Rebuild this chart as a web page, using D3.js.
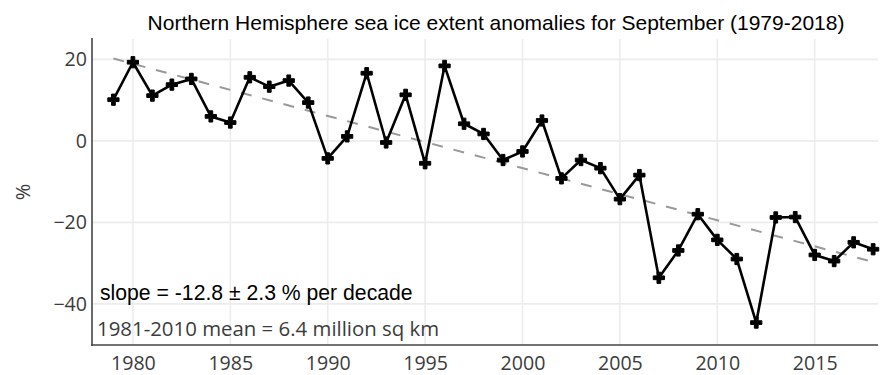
<!DOCTYPE html>
<html>
<head>
<meta charset="utf-8">
<script src="https://cdn.jsdelivr.net/npm/d3@7"></script>
<style>
  body { margin: 0; background: #fff; }
  svg { display: block; }
</style>
</head>
<body>
<svg id="chart" width="883" height="375"></svg>
<script>
// September sea ice extent anomalies (% relative to 1981-2010 mean)
const years = d3.range(1979, 2019);
const anomalies = [
  10.1, 19.3, 11.1, 13.8, 15.2, 6.0, 4.5, 15.6, 13.3, 14.8,
  9.4, -4.3, 1.1, 16.6, -0.4, 11.3, -5.5, 18.4, 4.2, 1.7,
  -4.7, -2.6, 5.0, -9.2, -4.7, -6.7, -14.3, -8.4, -33.6, -26.9,
  -18.0, -24.3, -29.0, -44.6, -18.8, -18.7, -28.0, -29.5, -24.9, -26.6
];
// Linear trend: value at 1979 and slope (% per year)
const trendStart = 20.2;
const trendSlope = -1.28;
const trendYears = [1979, 2018];

const xTicks = [1980, 1985, 1990, 1995, 2000, 2005, 2010, 2015];
const yTicks = [-40, -20, 0, 20];

const titleText = "Northern Hemisphere sea ice extent anomalies for September (1979-2018)";
const slopeText = "slope = -12.8 \u00b1 2.3 % per decade";
const meanText = "1981-2010 mean = 6.4 million sq km";

const svg = d3.select("#chart");
const plotLeft = 92, plotRight = 878, plotTop = 39, plotBottom = 345;

const x = d3.scaleLinear().domain([1977.9, 2018.25]).range([plotLeft, plotRight]);
const y = d3.scaleLinear().domain([-50.1, 25]).range([plotBottom, plotTop]);

// grid
const grid = svg.append("g");
grid.selectAll("line.vx").data(xTicks).join("line")
  .attr("x1", d => x(d)).attr("x2", d => x(d))
  .attr("y1", plotTop).attr("y2", plotBottom)
  .attr("stroke", "#ececec").attr("stroke-width", 1.6);
grid.selectAll("line.hy").data(yTicks).join("line")
  .attr("x1", plotLeft).attr("x2", plotRight)
  .attr("y1", d => y(d)).attr("y2", d => y(d))
  .attr("stroke", "#ececec").attr("stroke-width", 1.6);

// axes
const xAxis = svg.append("g").attr("transform", `translate(0,${plotBottom})`)
  .call(d3.axisBottom(x).tickValues(xTicks).tickFormat(d3.format("d")).tickSize(0).tickPadding(0));
const yAxis = svg.append("g").attr("transform", `translate(${plotLeft},0)`)
  .call(d3.axisLeft(y).tickValues(yTicks).tickFormat(d => d < 0 ? "\u2212" + Math.abs(d) : d).tickSize(0).tickPadding(5));
[xAxis, yAxis].forEach(g => {
  g.select(".domain").remove();
  g.selectAll("text")
    .attr("fill", "#3c3c3c")
    .style("font-family", "'Open Sans', sans-serif")
    .style("font-size", "19.6px");
});
// x tick labels sit on a fixed baseline below the axis
xAxis.selectAll("text").attr("y", 24.5).attr("dy", null);

svg.append("line").attr("x1", plotLeft).attr("x2", plotLeft).attr("y1", plotTop - 1).attr("y2", plotBottom + 1)
  .attr("stroke", "#444").attr("stroke-width", 1.6);
svg.append("line").attr("x1", plotLeft - 0.8).attr("x2", plotRight).attr("y1", plotBottom).attr("y2", plotBottom)
  .attr("stroke", "#444").attr("stroke-width", 1.6);

// y-axis title
svg.append("text")
  .attr("transform", `translate(30,${(plotTop + plotBottom) / 2}) rotate(-90)`)
  .attr("text-anchor", "middle")
  .attr("fill", "#3c3c3c")
  .style("font-family", "'Open Sans', sans-serif")
  .style("font-size", "20px")
  .text("%");

// trend line
svg.append("line")
  .attr("x1", x(trendYears[0])).attr("y1", y(trendStart))
  .attr("x2", x(trendYears[1])).attr("y2", y(trendStart + trendSlope * (trendYears[1] - trendYears[0])))
  .attr("stroke", "#999").attr("stroke-width", 2)
  .attr("stroke-dasharray", "11,11");

// anomaly series
const pts = years.map((yr, i) => ({ yr, v: anomalies[i] }));
svg.append("path")
  .datum(pts)
  .attr("fill", "none").attr("stroke", "#000").attr("stroke-width", 2.6)
  .attr("stroke-linejoin", "round")
  .attr("d", d3.line().x(d => x(d.yr)).y(d => y(d.v)));

svg.selectAll("path.mk").data(pts).join("path")
  .attr("class", "mk")
  .attr("transform", d => `translate(${x(d.yr)},${y(d.v)})`)
  .attr("d", d3.symbol(d3.symbolCross, 70))
  .attr("fill", "#000").attr("stroke", "#000").attr("stroke-width", 1);

// title and annotations
svg.append("text")
  .attr("x", 496).attr("y", 30)
  .attr("text-anchor", "middle")
  .attr("fill", "#000")
  .style("font-family", "'Liberation Sans', Arial, sans-serif")
  .style("font-size", "21px")
  .text(titleText);

svg.append("text")
  .attr("x", 100).attr("y", 300)
  .attr("fill", "#000")
  .style("font-family", "'Liberation Sans', Arial, sans-serif")
  .style("font-size", "21.2px")
  .text(slopeText);

svg.append("text")
  .attr("x", 97).attr("y", 336)
  .attr("fill", "#3c3c3c")
  .style("font-family", "'Open Sans', sans-serif")
  .style("font-size", "20.4px")
  .text(meanText);
</script>
</body>
</html>
